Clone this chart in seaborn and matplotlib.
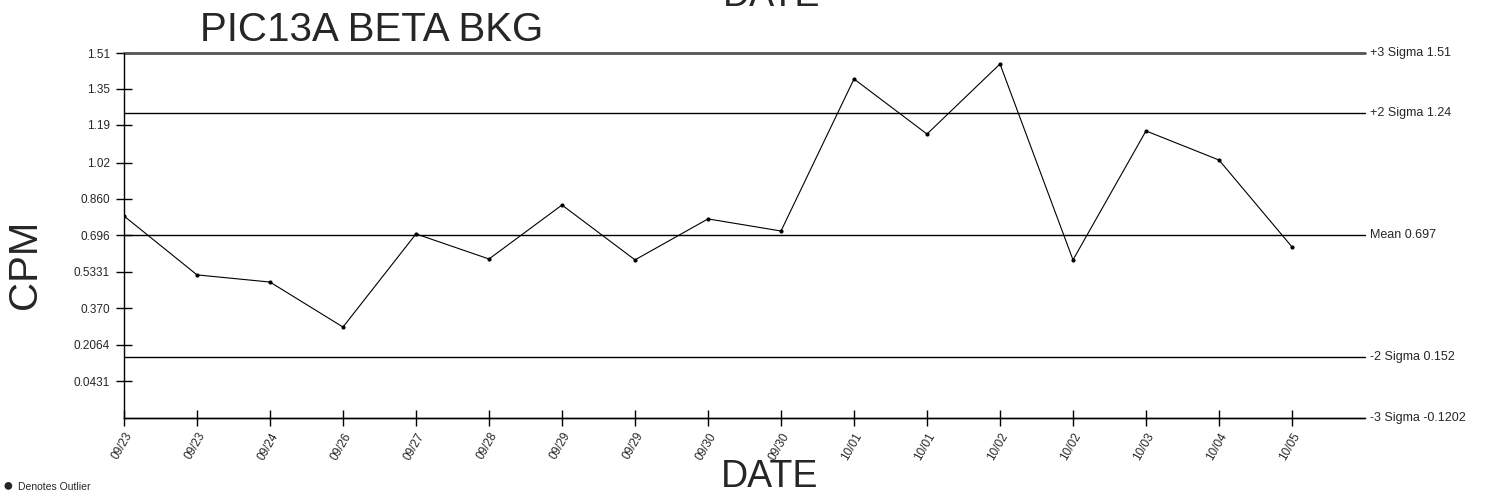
import matplotlib
matplotlib.use("Agg")
import matplotlib.pyplot as plt
import seaborn as sns
import pandas as pd
import numpy as np

dates = ["09/23", "09/23", "09/24", "09/26", "09/27", "09/28", "09/29", "09/29",
         "09/30", "09/30", "10/01", "10/01", "10/02", "10/02", "10/03", "10/04", "10/05"]
cpm = [0.782, 0.519, 0.487, 0.286, 0.702, 0.590, 0.831, 0.586,
       0.769, 0.715, 1.394, 1.148, 1.461, 0.586, 1.162, 1.032, 0.644]

limit_names = ["+3 Sigma", "+2 Sigma", "Mean", "-2 Sigma", "-3 Sigma"]
limit_values = [1.51, 1.24, 0.697, 0.152, -0.1202]
limit_labels = ["1.51", "1.24", "0.697", "0.152", "-0.1202"]

ytick_values = [0.0431, 0.2064, 0.370, 0.5331, 0.696, 0.860, 1.02, 1.19, 1.35, 1.51]
ytick_labels = ["0.0431", "0.2064", "0.370", "0.5331", "0.696", "0.860", "1.02", "1.19", "1.35", "1.51"]

sns.set_theme(style="white")
plt.rcParams['font.family'] = ['Liberation Sans', 'DejaVu Sans']

fig = plt.figure(figsize=(14.87, 4.96), dpi=100)
ax = fig.add_axes([124/1487, 1-418/496, (1365-124)/1487, (418-53)/496])

df = pd.DataFrame({"idx": np.arange(len(cpm)), "cpm": cpm})
sns.lineplot(data=df, x="idx", y="cpm", ax=ax, color="black", linewidth=0.8,
             marker="o", markersize=3, markeredgewidth=0, zorder=3)

for name, v, lab in zip(limit_names, limit_values, limit_labels):
    if name == "+3 Sigma":
        ax.axhline(v, color="#555555", linewidth=2.0, zorder=2, clip_on=False)
    else:
        ax.axhline(v, color="black", linewidth=1.0, zorder=2, clip_on=False)
    ax.text(1.004, v, f"{name} {lab}", transform=ax.get_yaxis_transform(),
            fontsize=9, va="center", ha="left")

ax.set_xlim(0, 17)
ax.set_ylim(-0.1202, 1.51)
ax.set_xticks(np.arange(len(dates)))
ax.set_xticklabels(dates, rotation=60, ha="right", rotation_mode="anchor", fontsize=8.5)
ax.set_yticks(ytick_values)
ax.set_yticklabels(ytick_labels, fontsize=8.5)
ax.tick_params(axis="y", direction="inout", length=12, width=1, color="black",
               left=True, pad=4)
ax.tick_params(axis="x", direction="inout", length=12, width=1, color="black",
               bottom=True, pad=3)
for s in ["top", "right"]:
    ax.spines[s].set_visible(False)
for s in ["left", "bottom"]:
    ax.spines[s].set_color("black")
    ax.spines[s].set_linewidth(1.0)

ax.set_xlabel("")
ax.set_ylabel("")
fig.text(25/1487, 1-264/496, "CPM", rotation=90, fontsize=29, va="center", ha="center")
fig.text(372/1487, 1-30/496, "PIC13A BETA BKG", fontsize=29, va="center", ha="center")
fig.text(770/1487, 1-477/496, "DATE", fontsize=27, va="center", ha="center")
fig.text(772/1487, 1-(-4)/496, "DATE", fontsize=27, va="center", ha="center")
fig.text(2/1487, 1-486/496, "\u25cf", fontsize=13, va="center", ha="left")
fig.text(18/1487, 1-487/496, "Denotes Outlier", fontsize=7.5, va="center", ha="left")

fig.savefig("out.png", dpi=100)
